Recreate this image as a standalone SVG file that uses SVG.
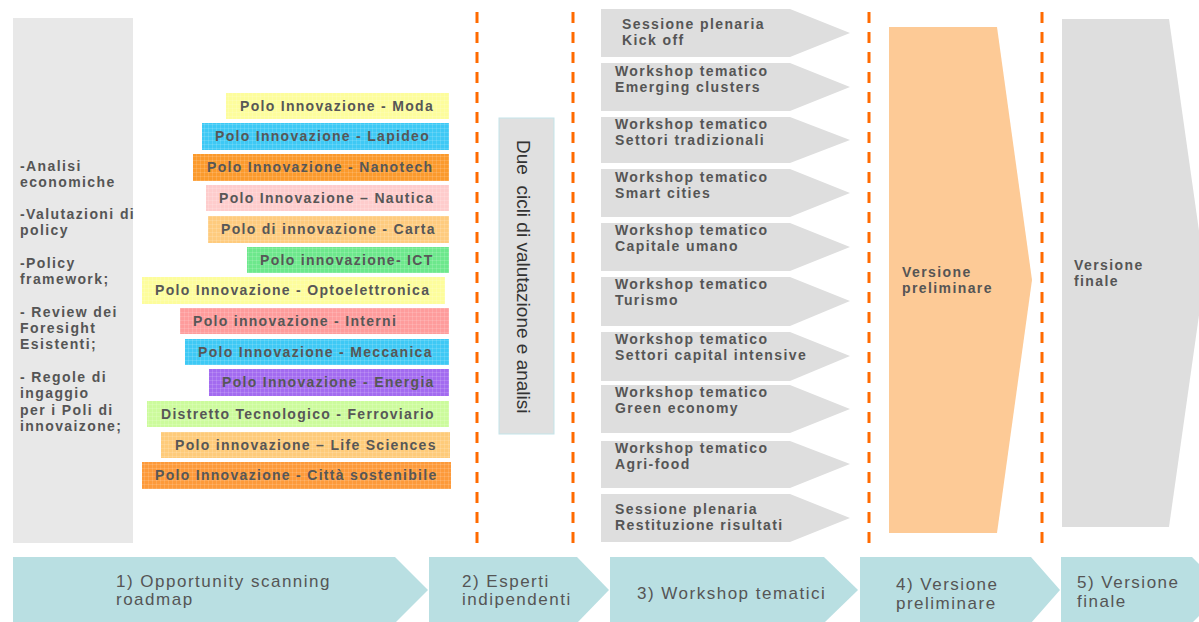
<svg xmlns="http://www.w3.org/2000/svg" width="1199" height="622" viewBox="0 0 1199 622">
<style>
.b{font-family:"Liberation Sans",Arial,sans-serif;font-weight:bold;font-size:14px;letter-spacing:1.4px;fill:#555}
.p{font-family:"Liberation Sans",Arial,sans-serif;font-weight:bold;font-size:14px;letter-spacing:1.3px;fill:#575757}
.r{font-family:"Liberation Sans",Arial,sans-serif;font-size:17px;letter-spacing:1.5px;fill:#555}
.v{font-family:"Liberation Sans",Arial,sans-serif;font-size:19px;fill:#333}
.dash{stroke:#ff6a00;stroke-width:3;stroke-dasharray:11 9;fill:none}
.ws{fill:#dedede}
.step{fill:#b9dfe2}
.grid{fill:url(#grid)}
</style>
<defs>
<pattern id="grid" width="4" height="4" patternUnits="userSpaceOnUse">
<path d="M0 0.3H4M0.3 0V4" stroke="#fff" stroke-opacity="0.28" stroke-width="0.6" fill="none"/>
</pattern>
</defs>
<rect width="1199" height="622" fill="#fff"/>

<g id="left-panel">
<rect x="13" y="18" width="120" height="525" fill="#e8e8e8"/>
<text class="b" x="20" y="171">-Analisi</text>
<text class="b" x="20" y="187">economiche</text>
<text class="b" x="20" y="219">-Valutazioni di</text>
<text class="b" x="20" y="235">policy</text>
<text class="b" x="20" y="268">-Policy</text>
<text class="b" x="20" y="284">framework;</text>
<text class="b" x="20" y="317">- Review dei</text>
<text class="b" x="20" y="333">Foresight</text>
<text class="b" x="20" y="349">Esistenti;</text>
<text class="b" x="20" y="382">- Regole di</text>
<text class="b" x="20" y="398">ingaggio</text>
<text class="b" x="20" y="415">per i Poli di</text>
<text class="b" x="20" y="431">innovaizone;</text>
</g>

<g id="polo-moda"><rect x="226" y="93" width="223" height="26" fill="#fdfd9c"/><rect class="grid" x="226" y="93" width="223" height="26"/><text class="p" x="240" y="111">Polo Innovazione - Moda</text></g>
<g id="polo-lapideo"><rect x="202" y="123" width="247" height="27" fill="#3ec9f5"/><rect class="grid" x="202" y="123" width="247" height="27"/><text class="p" x="215" y="141">Polo Innovazione - Lapideo</text></g>
<g id="polo-nanotech"><rect x="193" y="154" width="256" height="27" fill="#fb9a2c"/><rect class="grid" x="193" y="154" width="256" height="27"/><text class="p" x="207" y="172">Polo Innovazione - Nanotech</text></g>
<g id="polo-nautica"><rect x="206" y="185" width="243" height="26" fill="#fecccc"/><rect class="grid" x="206" y="185" width="243" height="26"/><text class="p" x="219" y="203">Polo Innovazione – Nautica</text></g>
<g id="polo-carta"><rect x="208" y="216" width="241" height="27" fill="#fecb7e"/><rect class="grid" x="208" y="216" width="241" height="27"/><text class="p" x="221" y="234">Polo di innovazione - Carta</text></g>
<g id="polo-ict"><rect x="247" y="247" width="202" height="26" fill="#6de88c"/><rect class="grid" x="247" y="247" width="202" height="26"/><text class="p" x="260" y="265">Polo innovazione- ICT</text></g>
<g id="polo-optoelettronica"><rect x="142" y="277" width="303" height="27" fill="#fdfd9c"/><rect class="grid" x="142" y="277" width="303" height="27"/><text class="p" x="155" y="295">Polo Innovazione - Optoelettronica</text></g>
<g id="polo-interni"><rect x="180" y="308" width="269" height="26" fill="#fe9c9c"/><rect class="grid" x="180" y="308" width="269" height="26"/><text class="p" x="193" y="326">Polo innovazione - Interni</text></g>
<g id="polo-meccanica"><rect x="185" y="339" width="264" height="26" fill="#3ec9f5"/><rect class="grid" x="185" y="339" width="264" height="26"/><text class="p" x="198" y="357">Polo Innovazione - Meccanica</text></g>
<g id="polo-energia"><rect x="209" y="369" width="240" height="27" fill="#a36bf0"/><rect class="grid" x="209" y="369" width="240" height="27"/><text class="p" x="222" y="387">Polo Innovazione - Energia</text></g>
<g id="polo-ferroviario"><rect x="147" y="401" width="302" height="26" fill="#ccfb9c"/><rect class="grid" x="147" y="401" width="302" height="26"/><text class="p" x="161" y="419">Distretto Tecnologico - Ferroviario</text></g>
<g id="polo-lifesciences"><rect x="161" y="432" width="289" height="26" fill="#fecb7a"/><rect class="grid" x="161" y="432" width="289" height="26"/><text class="p" x="175" y="450">Polo innovazione – Life Sciences</text></g>
<g id="polo-citta"><rect x="142" y="462" width="309" height="27" fill="#fd9a3a"/><rect class="grid" x="142" y="462" width="309" height="27"/><text class="p" x="155" y="480">Polo Innovazione - Città sostenibile</text></g>

<g id="separators">
<line class="dash" x1="477" y1="12" x2="477" y2="543"/>
<line class="dash" x1="573" y1="12" x2="573" y2="543"/>
<line class="dash" x1="869" y1="12" x2="869" y2="543"/>
<line class="dash" x1="1042" y1="12" x2="1042" y2="543"/>
</g>

<g id="due-cicli">
<rect x="499" y="118" width="55" height="316" fill="#e0e0e0" stroke="#c3e4e9" stroke-width="1"/>
<text class="v" xml:space="preserve" transform="translate(517,140) rotate(90)">Due  cicli di valutazione e analisi</text>
</g>

<g id="ws-kickoff"><polygon class="ws" points="601,9 790,9 850,33 790,57 601,57"/><text class="b" x="622" y="29">Sessione plenaria</text><text class="b" x="622" y="45">Kick off</text></g>
<g id="ws-emerging"><polygon class="ws" points="601,63 790,63 850,87 790,111 601,111"/><text class="b" x="615" y="76">Workshop tematico</text><text class="b" x="615" y="92">Emerging clusters</text></g>
<g id="ws-tradizionali"><polygon class="ws" points="601,117 790,117 850,140 790,163 601,163"/><text class="b" x="615" y="129">Workshop tematico</text><text class="b" x="615" y="145">Settori tradizionali</text></g>
<g id="ws-smart"><polygon class="ws" points="601,169 790,169 850,193 790,217 601,217"/><text class="b" x="615" y="182">Workshop tematico</text><text class="b" x="615" y="198">Smart cities</text></g>
<g id="ws-capitale"><polygon class="ws" points="601,223 790,223 850,247 790,271 601,271"/><text class="b" x="615" y="235">Workshop tematico</text><text class="b" x="615" y="251">Capitale umano</text></g>
<g id="ws-turismo"><polygon class="ws" points="601,277 790,277 850,301 790,326 601,326"/><text class="b" x="615" y="289">Workshop tematico</text><text class="b" x="615" y="305">Turismo</text></g>
<g id="ws-capital"><polygon class="ws" points="601,332 790,332 850,356 790,381 601,381"/><text class="b" x="615" y="344">Workshop tematico</text><text class="b" x="615" y="360">Settori capital intensive</text></g>
<g id="ws-green"><polygon class="ws" points="601,385 790,385 850,409 790,433 601,433"/><text class="b" x="615" y="397">Workshop tematico</text><text class="b" x="615" y="413">Green economy</text></g>
<g id="ws-agri"><polygon class="ws" points="601,441 790,441 850,464 790,488 601,488"/><text class="b" x="615" y="453">Workshop tematico</text><text class="b" x="615" y="469">Agri-food</text></g>
<g id="ws-restituzione"><polygon class="ws" points="601,494 790,494 850,518 790,542 601,542"/><text class="b" x="615" y="514">Sessione plenaria</text><text class="b" x="615" y="530">Restituzione risultati</text></g>

<g id="versione-preliminare"><polygon points="889,27 997,27 1032,280 997,533 889,533" fill="#fdca96"/><text class="b" x="902" y="277">Versione</text><text class="b" x="902" y="293">preliminare</text></g>
<g id="versione-finale"><polygon points="1062,19 1169,19 1205,273 1169,527 1062,527" fill="#dedede"/><text class="b" x="1074" y="270">Versione</text><text class="b" x="1074" y="286">finale</text></g>

<g id="step1"><polygon class="step" points="13,557 395,557 428,590 395,623 13,623"/><text class="r" x="116" y="587">1) Opportunity scanning</text><text class="r" x="116" y="605">roadmap</text></g>
<g id="step2"><polygon class="step" points="429,557 577,557 609,590 577,623 429,623"/><text class="r" x="462" y="587">2) Esperti</text><text class="r" x="462" y="605">indipendenti</text></g>
<g id="step3"><polygon class="step" points="610,557 824,557 858,590 824,623 610,623"/><text class="r" x="637" y="599">3) Workshop tematici</text></g>
<g id="step4"><polygon class="step" points="860,557 1031,557 1060,590 1031,623 860,623"/><text class="r" x="896" y="590">4) Versione</text><text class="r" x="896" y="609">preliminare</text></g>
<g id="step5"><polygon class="step" points="1061,557 1192,557 1225,590 1192,623 1061,623"/><text class="r" x="1077" y="588">5) Versione</text><text class="r" x="1077" y="607">finale</text></g>
</svg>
